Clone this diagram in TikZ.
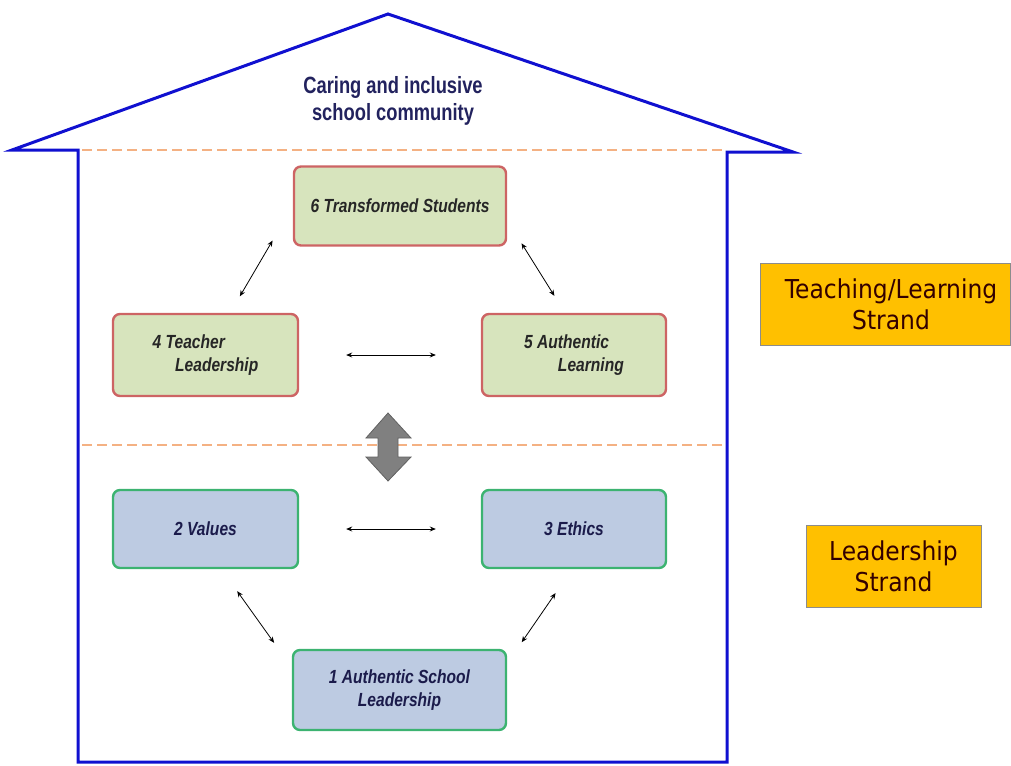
\documentclass[tikz,border=0pt]{standalone}
\usepackage{fontspec}
\setmainfont{Liberation Sans}
\newfontfamily\boxfont{Liberation Sans}[UprightFont={* Bold Italic}, FakeStretch=0.82]
\newfontfamily\roofont{Liberation Sans}[UprightFont={* Bold}, FakeStretch=0.78]
\newfontfamily\strandfont{DejaVu Sans}[FakeStretch=0.9]
\usetikzlibrary{arrows.meta}
\definecolor{housebl}{HTML}{1010D0}
\definecolor{dashor}{HTML}{F4B183}
\definecolor{greenfill}{HTML}{D7E4BD}
\definecolor{redline}{HTML}{CD6464}
\definecolor{bluefill}{HTML}{BDCBE2}
\definecolor{greenline}{HTML}{3CB371}
\definecolor{strandor}{HTML}{FFC000}
\definecolor{roofnavy}{HTML}{22225E}
\begin{document}
\begin{tikzpicture}[x=1pt,y=-1pt,
    upperbox/.style={draw=redline, fill=greenfill, line width=2.4pt, rounded corners=7pt,
      minimum width=212pt, minimum height=79pt, font=\boxfont\fontsize{19}{23}\selectfont,
      text=black!85},
    lowerbox/.style={upperbox, draw=greenline, fill=bluefill, text=roofnavy!80!black},
    strandbox/.style={draw=black!45, fill=strandor, line width=0.8pt, align=center,
      font=\strandfont\fontsize{26}{31}\selectfont, text=black!80!red},
    link/.style={{Stealth[length=6pt,width=5pt]}-{Stealth[length=6pt,width=5pt]}, line width=0.8pt},
    floor/.style={dashor, dashed, dash pattern=on 10pt off 5pt, line width=1.2pt}]
  \useasboundingbox (0,0) rectangle (1011,765);
  % house outline
  \draw[housebl, line width=3pt, line join=miter]
    (78,762) -- (78,150) -- (12,150) -- (388,14) -- (793,152) -- (727,152) -- (727,762) -- cycle;
  \draw[floor] (82,150) -- (723,150);
  \draw[floor] (82,445) -- (723,445);
  \node[text=roofnavy, align=center, font=\roofont\fontsize{23.5}{27}\selectfont] (roof) at (393,101)
    {Caring and inclusive\\school community};
  % boxes
  \node[upperbox] (n6) at (400,206) {6 Transformed Students};
  \node[upperbox, minimum width=185pt, minimum height=82pt, align=left] (n4) at (205.5,355)
    {4 Teacher\\\phantom{4 T}Leadership};
  \node[upperbox, minimum width=184pt, minimum height=82pt, align=left] (n5) at (574,355)
    {5 Authentic\\\phantom{5 Au}Learning};
  \node[lowerbox, minimum width=185pt, minimum height=78pt] (n2) at (205.5,529) {2 Values};
  \node[lowerbox, minimum width=184pt, minimum height=78pt] (n3) at (574,529) {3 Ethics};
  \node[lowerbox, minimum width=213pt, minimum height=80pt, align=center] (n1) at (399.5,690)
    {1 Authentic School\\Leadership};
  % connectors
  \draw[link, shorten <=40pt, shorten >=68pt] (n6.west) -- (n4.center);
  \draw[link, shorten <=44pt, shorten >=20pt] ([xshift=-9pt]n6.east) -- ([xshift=-9pt]n5.north);
  \draw[link, shorten <=47pt, shorten >=45pt] (n4.east) -- (n5.west);
  \draw[link, shorten <=47pt, shorten >=45pt] (n2.east) -- (n3.west);
  \draw[link, shorten <=27pt, shorten >=58pt] ([xshift=16pt]n2.south) -- ([xshift=16pt]n1.west);
  \draw[link, shorten <=29pt, shorten >=8pt] ([xshift=-2pt]n3.south) -- ([xshift=10pt]n1.north east);
  % big arrow between strands
  \draw[fill=black!50, draw=black!62, line width=0.8pt, line join=miter]
    (388,413) -- (411,438) -- (398,438) -- (398,457) -- (411,457) -- (388,481)
    -- (366,457) -- (378,457) -- (378,438) -- (366,438) -- cycle;
  % strands
  \node[strandbox, minimum width=250pt, minimum height=82pt] (teach) at (885,304)
    {\hspace{12pt}Teaching/Learning\\\hspace{12pt}Strand};
  \node[strandbox, minimum width=175pt, minimum height=82pt] (lead) at (893.5,566)
    {Leadership\\Strand};
\end{tikzpicture}
\end{document}
